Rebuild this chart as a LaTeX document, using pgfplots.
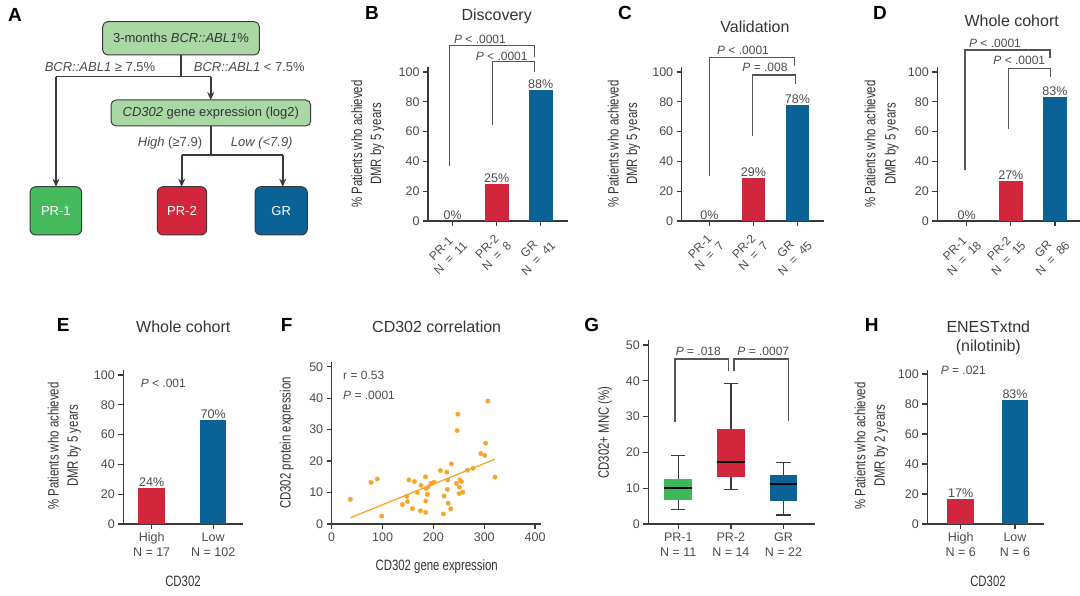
\documentclass[border=0pt]{standalone}
\usepackage{fontspec}
\setmainfont{Liberation Sans}
\usepackage{graphicx}
\usepackage{pgfplots}
\pgfplotsset{compat=1.18}
\usepgfplotslibrary{statistics}
\usetikzlibrary{arrows.meta}
\definecolor{bred}{HTML}{D1263C}
\definecolor{bblue}{HTML}{0B6296}
\definecolor{ggreen}{HTML}{3DB85A}
\definecolor{fgreen}{HTML}{45BB5D}
\definecolor{lgreen}{HTML}{A9D8A4}
\definecolor{orc}{HTML}{F6A52A}
\definecolor{axc}{HTML}{3A3A3A}
\definecolor{tkc}{HTML}{4A4A4A}
\definecolor{ttc}{HTML}{333333}
\definecolor{brc}{HTML}{555555}
\newcommand{\fs}[1]{\fontsize{#1}{#1}\selectfont}
\newcommand{\cond}[1]{\scalebox{0.76}[1]{#1}}
\newcommand{\eq}{\hspace{0.55em}=\hspace{0.55em}}
\pgfplotsset{
  base/.style={scale only axis, anchor=south west, clip=false,
    axis x line*=bottom, axis y line*=left,
    axis line style={-, draw=axc, line width=1.4pt},
    tick style={draw=axc, line width=1.3pt},
    major tick length=5pt, tick align=outside, tick pos=left,
    tick label style={font=\fs{12.5}, text=tkc},
    /pgf/number format/assume math mode=true},
  barax/.style={base, ymin=0, ymax=103.4, ytick={0,20,...,100}, height=154pt,
    ybar, xtick={0,1,2},
    nodes near coords={\pgfmathprintnumber{\pgfplotspointmeta}\%},
    every node near coord/.append style={font=\fs{12.5}, text=tkc, anchor=south, inner sep=1.2pt}},
  rotlab/.style={xticklabel style={rotate=45, anchor=north east, align=center, font=\fontsize{12}{13.5}\selectfont}},
  flatlab/.style={xticklabel style={anchor=north, align=center, font=\fontsize{12.5}{15}\selectfont}},
}
\begin{document}
\begin{tikzpicture}
\path[use as bounding box] (0,0) rectangle (1080pt,596pt);

% ---------- B ----------
\begin{axis}[barax, rotlab, at={(428pt,375pt)}, width=140pt, xmin=-0.56, xmax=2.62, bar width=24pt,
  xticklabels={{PR-1\\N\eq 11},{PR-2\\N\eq 8},{GR\\N\eq 41}}]
\addplot[fill=none, draw=none, bar shift=0pt] coordinates {(0,0)};
\addplot[fill=bred, draw=none, bar shift=0pt] coordinates {(1,25)};
\addplot[fill=bblue, draw=none, bar shift=0pt] coordinates {(2,88)};
\end{axis}

% ---------- C ----------
\begin{axis}[barax, rotlab, at={(681.7pt,375pt)}, width=142.5pt, xmin=-0.63, xmax=2.61, bar width=23.5pt,
  xticklabels={{PR-1\\N\eq 7},{PR-2\\N\eq 7},{GR\\N\eq 45}}]
\addplot[fill=none, draw=none, bar shift=0pt] coordinates {(0,0)};
\addplot[fill=bred, draw=none, bar shift=0pt] coordinates {(1,29)};
\addplot[fill=bblue, draw=none, bar shift=0pt] coordinates {(2,78)};
\end{axis}

% ---------- D ----------
\begin{axis}[barax, rotlab, at={(937.3pt,375pt)}, width=142.7pt, xmin=-0.665, xmax=2.567, bar width=23.5pt,
  xticklabels={{PR-1\\N\eq 18},{PR-2\\N\eq 15},{GR\\N\eq 86}}]
\addplot[fill=none, draw=none, bar shift=0pt] coordinates {(0,0)};
\addplot[fill=bred, draw=none, bar shift=0pt] coordinates {(1,27)};
\addplot[fill=bblue, draw=none, bar shift=0pt] coordinates {(2,83)};
\end{axis}

% ---------- E ----------
\begin{axis}[barax, flatlab, at={(123.3pt,72pt)}, width=119.4pt, xmin=-0.46, xmax=1.48, bar width=26.5pt,
  xtick={0,1}, xticklabels={{High\\N = 17},{Low\\N = 102}}]
\addplot[fill=bred, draw=none, bar shift=0pt] coordinates {(0,24)};
\addplot[fill=bblue, draw=none, bar shift=0pt] coordinates {(1,70)};
\end{axis}

% ---------- F ----------
\begin{axis}[base, at={(331.7pt,72pt)}, width=209pt, height=162.3pt, xmin=0, xmax=411, ymin=0, ymax=51.6,
  xtick={0,100,...,400}, ytick={0,10,...,50}]
\addplot[only marks, mark=*, mark size=2.2pt, color=orc, mark options={fill=orc, draw=orc}] coordinates {
(36.7,7.8)(77.4,13.2)(89.8,14.3)(98.4,2.5)(139,6.2)(147.5,8.8)(148.9,7.1)(152.1,14.0)(158.7,4.9)
(162.6,13.5)(168.5,10.0)(174.4,4.2)(175.7,12.3)(184.3,15.0)(184.9,3.7)(184.9,7.3)(185.6,11.3)
(188.2,9.4)(189.5,11.8)(195.4,12.9)(201.3,13.3)(213.8,17.0)(219.7,3.2)(221,8.9)(226.2,16.5)
(227.5,11.0)(228.2,14.0)(228.9,6.6)(234.1,4.8)(235.4,19.1)(245.2,12.9)(246.6,29.7)(247.9,34.9)
(250.5,9.7)(251.1,11.7)(252.5,14.0)(255.1,13.5)(257.7,10.1)(266.9,17.1)(278,17.7)(293.1,22.4)
(300.9,21.8)(302.9,25.7)(306.9,39.1)(321.3,14.9)};
\addplot[orc, line width=1.3pt, no marks] coordinates {(37,2.0)(321,20.6)};
\end{axis}

% ---------- G ----------
\begin{axis}[base, flatlab, at={(648.3pt,72pt)}, width=166.7pt, height=184pt, xmin=-0.57, xmax=2.6, ymin=0, ymax=51.4,
  xtick={0,1,2}, xticklabels={{PR-1\\N = 11},{PR-2\\N = 14},{GR\\N = 22}}, ytick={0,10,...,50},
  boxplot/draw direction=y,
  boxplot/every box/.style={draw=none},
  boxplot/every median/.style={draw=black, line width=1.6pt},
  boxplot/every whisker/.style={draw=axc, line width=1.3pt}]
\addplot[fill=ggreen, draw=axc, line width=1.3pt, boxplot prepared={draw position=0, lower whisker=4.1, lower quartile=6.6, median=10.0, upper quartile=12.5, upper whisker=19.2, box extend=0.53, whisker extend=0.27}] coordinates {};
\addplot[fill=bred, draw=axc, line width=1.3pt, boxplot prepared={draw position=1, lower whisker=9.7, lower quartile=13.0, median=17.3, upper quartile=26.5, upper whisker=39.3, box extend=0.53, whisker extend=0.27}] coordinates {};
\addplot[fill=bblue, draw=axc, line width=1.3pt, boxplot prepared={draw position=2, lower whisker=2.5, lower quartile=6.4, median=11.2, upper quartile=13.8, upper whisker=17.1, box extend=0.53, whisker extend=0.27}] coordinates {};
\end{axis}

% ---------- H ----------
\begin{axis}[barax, flatlab, at={(927.3pt,72pt)}, width=116.7pt, ymax=102.7, xmin=-0.615, xmax=1.534, bar width=26.7pt,
  xtick={0,1}, xticklabels={{High\\N = 6},{Low\\N = 6}}]
\addplot[fill=bred, draw=none, bar shift=0pt] coordinates {(0,17)};
\addplot[fill=bblue, draw=none, bar shift=0pt] coordinates {(1,83)};
\end{axis}

% ---------- annotations (image coordinates) ----------
\begin{scope}[shift={(0pt,596pt)}, x=1pt, y=-1pt]
\foreach \L/\X/\Y in {A/15/15, B/372/13, C/625/13, D/880/13, E/63.3/325, F/286.7/325, G/591.7/325, H/871.7/325}
  \node[font=\fs{19}\bfseries, text=black] at (\X,\Y) {\L};
\node[font=\fs{16}, text=ttc] at (496.7,16.7) {Discovery};
\node[font=\fs{16}, text=ttc] at (755,26.7) {Validation};
\node[font=\fs{16}, text=ttc] at (1011.7,20.7) {Whole cohort};
\node[font=\fs{16}, text=ttc] at (183.3,326.7) {Whole cohort};
\node[font=\fs{16}, text=ttc] at (436.7,326.7) {CD302 correlation};
\node[font=\fs{16}, text=ttc] at (988.3,326.7) {ENESTxtnd};
\node[font=\fs{16}, text=ttc] at (988.3,347.3) {(nilotinib)};
\foreach \X/\Y in {356.7/144, 613.3/144, 870/144, 53.3/446}
  \node[rotate=90, font=\fs{15}, text=ttc] at (\X,\Y) {\cond{\% Patients who achieved}};
\foreach \X/\Y in {377.3/144, 633.3/144, 891.7/144, 74/446}
  \node[rotate=90, font=\fs{15}, text=ttc] at (\X,\Y) {\cond{DMR by 5 years}};
\node[rotate=90, font=\fs{15}, text=ttc] at (860,446) {\cond{\% Patients who achieved}};
\node[rotate=90, font=\fs{15}, text=ttc] at (881,446) {\cond{DMR by 2 years}};
\node[rotate=90, font=\fs{15}, text=ttc] at (286.7,443) {\cond{CD302 protein expression}};
\node[rotate=90, font=\fs{15}, text=ttc] at (605,432.5) {\cond{CD302+ MNC (\%)}};
\node[font=\fs{15}, text=ttc] at (436.7,566.7) {\cond{CD302 gene expression}};
\node[font=\fs{15}, text=ttc] at (183,581.7) {\cond{CD302}};
\node[font=\fs{15}, text=ttc] at (988,581.7) {\cond{CD302}};
\begin{scope}[draw=brc, line width=1.2pt]
\draw (449.3,165.7) -- (449.3,45.7) -- (534.3,45.7) -- (534.3,57.3);
\draw (492.7,125) -- (492.7,61.7) -- (534.7,61.7) -- (534.7,72.3);
\draw (709.3,176) -- (709.3,57.3) -- (794.7,57.3) -- (794.7,65.7);
\draw (752.7,136) -- (752.7,75) -- (795.7,75) -- (795.7,84);
\draw (965,170) -- (965,50) -- (1050,50) -- (1050,58.3);
\draw (1008.3,129.3) -- (1008.3,68.3) -- (1050.7,68.3) -- (1050.7,77.3);
\draw (675,421.7) -- (675,359) -- (728.3,359) -- (728.3,371);
\draw (734,371) -- (734,359) -- (788.3,359) -- (788.3,420.7);
\end{scope}
\begin{scope}[every node/.style={font=\fs{12}, text=tkc, inner sep=0pt}]
\node at (480,39.3) {\textit{P} < .0001};
\node at (501.7,56.7) {\textit{P} < .0001};
\node at (743,50) {\textit{P} < .0001};
\node at (765,67.7) {\textit{P} = .008};
\node at (995,43.3) {\textit{P} < .0001};
\node at (1019.3,60) {\textit{P} < .0001};
\node at (698.3,351.7) {\textit{P} = .018};
\node at (763.3,351.7) {\textit{P} = .0007};
\node at (163.3,383.3) {\textit{P} < .001};
\node at (963.3,370) {\textit{P} = .021};
\node[anchor=west] at (343,375) {r = 0.53};
\node[anchor=west] at (343,395) {\textit{P} = .0001};
\end{scope}
\begin{scope}[line width=1.6pt, draw=axc]
\draw[rounded corners=5pt, fill=lgreen, draw=axc, line width=1pt] (102.7,21.7) rectangle (259.3,55);
\node[font=\fs{13}, text=ttc] at (181,38.3) {3-months \textit{BCR::ABL1}\%};
\draw[axc] (181,55) -- (181,76.7);
\draw[axc] (56,76.7) -- (210.7,76.7);
\draw[axc, -{Stealth[length=8pt,width=7pt]}] (56,76.7) -- (56,186.7);
\draw[axc, -{Stealth[length=8pt,width=7pt]}] (210.7,76.7) -- (210.7,100);
\node[font=\fs{13}, text=tkc] at (100,66.7) {\textit{BCR::ABL1} ≥ 7.5\%};
\node[font=\fs{13}, text=tkc] at (249.3,66.7) {\textit{BCR::ABL1} < 7.5\%};
\draw[rounded corners=5pt, fill=lgreen, draw=axc, line width=1pt] (111,100) rectangle (310.7,126);
\node[font=\fs{13}, text=ttc] at (210.8,113) {\textit{CD302} gene expression (log2)};
\draw[axc] (210.7,126) -- (210.7,155);
\draw[axc] (181.7,155) -- (282.7,155);
\draw[axc, -{Stealth[length=8pt,width=7pt]}] (181.7,155) -- (181.7,186.7);
\draw[axc, -{Stealth[length=8pt,width=7pt]}] (282.7,155) -- (282.7,186.7);
\node[font=\fs{13}, text=tkc] at (170,142.7) {\textit{High} (≥7.9)};
\node[font=\fs{13}, text=tkc] at (261.7,142.7) {\textit{Low (<7.9)}};
\draw[rounded corners=6pt, fill=fgreen, draw=axc, line width=1pt] (30,186.7) rectangle (81.7,235);
\draw[rounded corners=6pt, fill=bred, draw=axc, line width=1pt] (157.3,186.7) rectangle (206.7,235);
\draw[rounded corners=6pt, fill=bblue, draw=axc, line width=1pt] (255,186.7) rectangle (307.3,235);
\node[font=\fs{13}, text=white] at (55.85,210.85) {PR-1};
\node[font=\fs{13}, text=white] at (182,210.85) {PR-2};
\node[font=\fs{13}, text=white] at (281.15,210.85) {GR};
\end{scope}
\end{scope}
\end{tikzpicture}
\end{document}
